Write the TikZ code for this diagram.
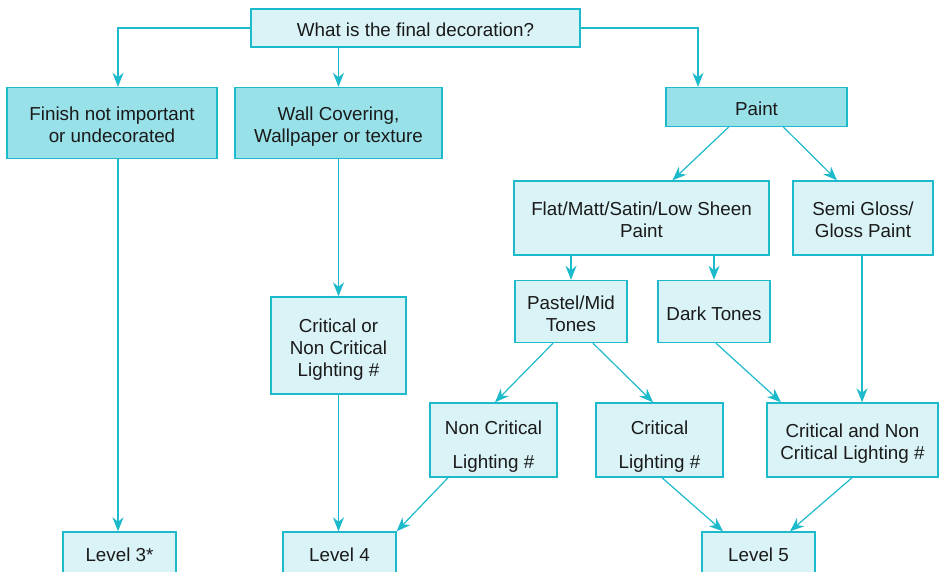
\documentclass[tikz,border=0pt]{standalone}
\usepackage{fontspec}
\setmainfont{Liberation Sans}
\usetikzlibrary{arrows.meta}
\definecolor{edgec}{HTML}{1DBACB}
\definecolor{lightf}{HTML}{D9F3F6}
\definecolor{darkf}{HTML}{99E1E8}
\definecolor{textc}{HTML}{1A1A1A}
\newcommand{\tx}[1]{\raisebox{-4.5pt}[\height][\depth]{\begin{tabular}{@{}c@{}}#1\end{tabular}}}
\begin{document}
\begin{tikzpicture}[x=1pt,y=-1pt,
  box/.style={draw=edgec,line width=1.4pt,fill=lightf,inner sep=0pt,
    font=\fontsize{18.8}{22}\selectfont,text=textc},
  dbox/.style={box,fill=darkf},
  wide/.style={font=\fontsize{18.8}{34}\selectfont},
  arr/.style={draw=edgec,line width=1.2pt,-{Stealth[length=14pt,width=11pt,inset=4.5pt]}}]
\path[use as bounding box] (0,0) rectangle (939,571);
\clip (0,0) rectangle (939,571);
\node[box,minimum width=329pt,minimum height=38pt] (top) at (415.5,28) {\tx{What is the final decoration?}};
\node[dbox,minimum width=210pt,minimum height=71pt] (finish) at (112,123) {\tx{Finish not important\\or undecorated}};
\node[dbox,minimum width=207pt,minimum height=71pt] (wall) at (338.5,123) {\tx{Wall Covering,\\Wallpaper or texture}};
\node[dbox,minimum width=181pt,minimum height=39pt] (paint) at (756.5,107) {\tx{Paint}};
\node[box,minimum width=255pt,minimum height=74pt] (flat) at (641.5,218) {\tx{Flat/Matt/Satin/Low Sheen\\Paint}};
\node[box,minimum width=140pt,minimum height=74pt] (semi) at (863,218) {\tx{Semi Gloss/\\Gloss Paint}};
\node[box,minimum width=135pt,minimum height=97pt] (critor) at (338.5,345.5) {\tx{Critical or\\Non Critical\\Lighting \#}};
\node[box,minimum width=112pt,minimum height=62pt] (pastel) at (571,311.5) {\tx{Pastel/Mid\\Tones}};
\node[box,minimum width=112pt,minimum height=62pt] (dark) at (714,311.5) {\tx{Dark Tones}};
\node[box,wide,minimum width=127pt,minimum height=74pt] (noncrit) at (493.5,440) {\tx{Non Critical\\Lighting \#}};
\node[box,wide,minimum width=127pt,minimum height=74pt] (crit) at (659.5,440) {\tx{Critical\\Lighting \#}};
\node[box,minimum width=171pt,minimum height=74pt] (candn) at (852.5,440) {\tx{Critical and Non\\Critical Lighting \#}};
\node[box,minimum width=113pt,minimum height=46pt] (lvlthree) at (119.5,555) {Level 3*};
\node[box,minimum width=113pt,minimum height=46pt] (lvlfour) at (339.5,555) {Level 4};
\node[box,minimum width=113pt,minimum height=46pt] (lvlfive) at (758.5,555) {Level 5};
% connectors
\draw[arr] (top.west) -| ([xshift=6pt]finish.north);
\draw[arr] (top.east) -| ([xshift=-58.5pt]paint.north);
\draw[arr] (top.south -| wall.north) -- (wall.north);
\draw[arr] ([xshift=6pt]finish.south) -- ([xshift=6pt]finish.south |- lvlthree.north);
\draw[arr] (wall.south) -- (wall.south |- critor.north);
\draw[arr] (critor.south) -- (critor.south |- lvlfour.north);
\draw[arr] ([xshift=-28pt]paint.south) -- ([xshift=31pt]flat.north);
\draw[arr] ([xshift=27pt]paint.south) -- ([xshift=-26pt]semi.north);
\draw[arr] (flat.south -| pastel.north) -- (pastel.north);
\draw[arr] (flat.south -| dark.north) -- (dark.north);
\draw[arr] ([xshift=-1pt]semi.south) -- ([xshift=-1pt]semi.south |- candn.north);
\draw[arr] ([xshift=-18pt]pastel.south) -- ([xshift=1.5pt]noncrit.north);
\draw[arr] ([xshift=22pt]pastel.south) -- ([xshift=-6.5pt]crit.north);
\draw[arr] ([xshift=2pt]dark.south) -- ([xshift=-71.5pt]candn.north);
\draw[arr] ([xshift=-45.5pt]noncrit.south) -- (lvlfour.north east);
\draw[arr] ([xshift=2.5pt]crit.south) -- ([xshift=-35.5pt]lvlfive.north);
\draw[arr] ([xshift=-0.5pt]candn.south) -- ([xshift=31.5pt]lvlfive.north);
\end{tikzpicture}
\end{document}
